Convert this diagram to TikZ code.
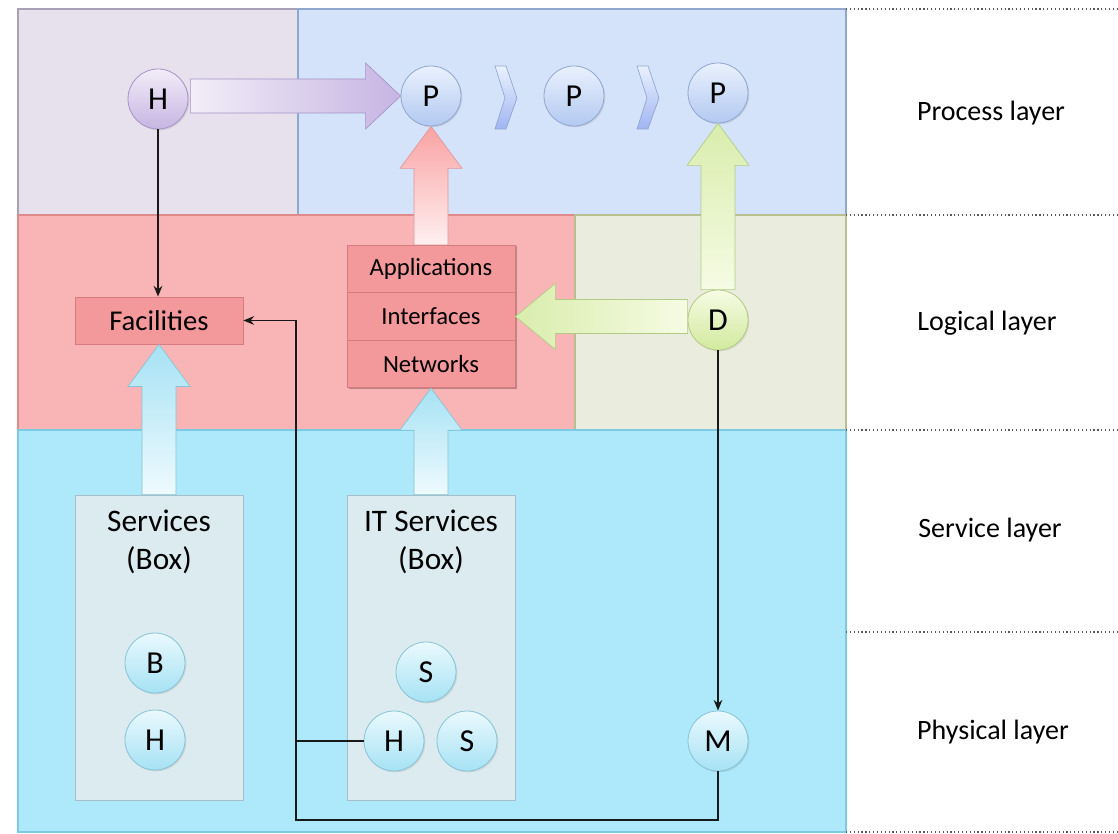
\documentclass[tikz,border=0pt]{standalone}
\usepackage{fontspec}
\setmainfont{Carlito}
\usetikzlibrary{calc,shadows,arrows.meta}
\definecolor{bgLav}{HTML}{E6E1EC}
\definecolor{bgLavB}{HTML}{A8A2B8}
\definecolor{bgPro}{HTML}{D5E3FA}
\definecolor{bgProB}{HTML}{8EA8CC}
\definecolor{bgRed}{HTML}{F9B4B5}
\definecolor{bgRedB}{HTML}{E08A8C}
\definecolor{bgOli}{HTML}{EAEDDD}
\definecolor{bgOliB}{HTML}{B8C090}
\definecolor{bgBlu}{HTML}{ADE9FA}
\definecolor{bgBluB}{HTML}{7CCBE2}
\definecolor{boxRed}{HTML}{F4999B}
\definecolor{boxRedB}{HTML}{D77C7E}
\definecolor{boxSvc}{HTML}{DCEBF0}
\definecolor{boxSvcB}{HTML}{A5BEC8}
\definecolor{cBluT}{HTML}{EAF9FE}
\definecolor{cBluD}{HTML}{A6E2F4}
\definecolor{cBluB}{HTML}{86C3D6}
\definecolor{cPurT}{HTML}{F2EDF8}
\definecolor{cPurD}{HTML}{C6B5E2}
\definecolor{cPurB}{HTML}{A593C6}
\definecolor{cProT}{HTML}{EAF1FD}
\definecolor{cProD}{HTML}{B2C9F1}
\definecolor{cProB}{HTML}{8FA6CE}
\definecolor{cGrnT}{HTML}{F6FBE4}
\definecolor{cGrnD}{HTML}{D2EA9E}
\definecolor{cGrnB}{HTML}{B2CB84}
\tikzset{
  circ/.style={circle, minimum size=45pt, inner sep=0pt, line width=0.6pt,
    font=\fontsize{24}{24}\selectfont,
    drop shadow={shadow xshift=1pt, shadow yshift=-1pt, opacity=0.2}},
  bluec/.style={circ, draw=cBluB, top color=cBluT, bottom color=cBluD},
  purc/.style={circ, draw=cPurB, top color=cPurT, bottom color=cPurD},
  proc/.style={circ, draw=cProB, top color=cProT, bottom color=cProD},
  grnc/.style={circ, draw=cGrnB, top color=cGrnT, bottom color=cGrnD},
  redbox/.style={draw=boxRedB, fill=boxRed, line width=0.6pt, inner sep=0pt,
    minimum width=126pt, minimum height=35.6pt},
  facbox/.style={redbox, minimum height=35.3pt, font=\fontsize{21.5}{21.5}\selectfont,
    drop shadow={shadow xshift=1pt, shadow yshift=-1pt, opacity=0.25}},
  stackbox/.style={redbox, font=\fontsize{18.5}{18.5}\selectfont},
  svcbox/.style={draw=boxSvcB, fill=boxSvc, line width=0.6pt, inner sep=0pt,
    minimum width=126pt, minimum height=228.75pt,
    drop shadow={shadow xshift=1pt, shadow yshift=-1pt, opacity=0.25}},
  svctext/.style={align=center, font=\fontsize{23.5}{29}\selectfont, anchor=north, inner sep=0pt},
  layerlabel/.style={font=\fontsize{21}{21}\selectfont},
  conn/.style={line width=1.4pt, draw=black!90, -{Stealth[length=8pt,width=6.5pt]}},
  plainconn/.style={line width=1.4pt, draw=black!90},
  sep/.style={dotted, line width=0.9pt, draw=black!65},
  blueblk/.style={draw=cBluB, line width=0.5pt, bottom color=cBluT!80!white, top color=cBluD},
  redblk/.style={draw=boxRedB!80, line width=0.5pt, bottom color=red!6, top color=bgRed!90!red},
  grnblkup/.style={draw=cGrnB, line width=0.5pt, bottom color=cGrnT, top color=cGrnD!85!white},
  grnblkleft/.style={draw=cGrnB, line width=0.5pt, right color=cGrnT, left color=cGrnD!85!white},
  purblk/.style={draw=cPurB, line width=0.5pt, left color=cPurT, right color=cPurD},
  chev/.style={draw=cProB, line width=0.5pt, top color=cProT, bottom color=cProD!90!blue},
}
\newcommand{\blkup}[3]{\path[#1] ($(#2)+(-17,0)$) -- ($(#3)+(-17,42)$) -- ($(#3)+(-31,42)$) -- (#3) -- ($(#3)+(31,42)$) -- ($(#3)+(17,42)$) -- ($(#2)+(17,0)$) -- cycle;}
\begin{document}
\begin{tikzpicture}[x=0.75pt,y=-0.75pt]
\useasboundingbox (0,0) rectangle (1118,834);
% layer backgrounds
\draw[fill=bgLav, draw=bgLavB, line width=0.8pt] (18,9) rectangle (298,215);
\draw[fill=bgPro, draw=bgProB, line width=0.8pt] (298,9) rectangle (846,215);
\draw[fill=bgRed, draw=bgRedB, line width=0.8pt] (18,215) rectangle (575,430);
\draw[fill=bgOli, draw=bgOliB, line width=0.8pt] (575,215) rectangle (846,430);
\draw[fill=bgBlu, draw=bgBluB, line width=0.8pt] (18,430) rectangle (846,832);
% separators
\foreach \yy in {9,215,430,632,832} \draw[sep] (846,\yy) -- (1118,\yy);
% layer labels
\node[layerlabel] (lp) at (991,113) {Process layer};
\node[layerlabel] (ll) at (987,323) {Logical layer};
\node[layerlabel] (ls) at (990,530) {Service layer};
\node[layerlabel] (lph) at (993,732) {Physical layer};
% boxes
\node[svcbox] (svc1) at (159,647.5) {};
\node[svcbox] (svc2) at (431,647.5) {};
\node[svctext] (svc1t) at ([yshift=-11pt]svc1.north) {Services\\(Box)};
\node[svctext] (svc2t) at ([yshift=-11pt]svc2.north) {IT Services\\(Box)};
\node[facbox] (Fac) at (159,320.5) {Facilities};
\fill[black, opacity=0.25] (348.5,246.5) rectangle (517,389.5);
\node[stackbox] (App) at (431,269) {Applications};
\node[stackbox] (Int) at (431,316.5) {Interfaces};
\node[stackbox] (Net) at (431,364) {Networks};
% circles
\node[purc] (H1) at (158,99) {H};
\node[proc] (P1) at (431,96) {P};
\node[proc] (P2) at (574,96) {P};
\node[proc] (P3) at (718,93) {P};
\node[grnc] (D) at (718,320) {D};
\node[bluec] (B1) at (155,663) {B};
\node[bluec] (H3) at (155,740) {H};
\node[bluec] (S1) at (426,672) {S};
\node[bluec] (H2) at (394,741) {H};
\node[bluec] (S2) at (467,741) {S};
\node[bluec] (M) at (718,741) {M};
% chevrons
\path[chev] (495,66) -- (506,66) -- (517,98) -- (506,129) -- (495,129) -- (505,98) -- cycle;
\path[chev] (637,66) -- (648,66) -- (659,98) -- (648,129) -- (637,129) -- (647,98) -- cycle;
% block arrows
\blkup{blueblk}{svc1.north}{Fac.south}
\blkup{blueblk}{svc2.north}{Net.south}
\blkup{redblk}{App.north}{P1.south}
\blkup{grnblkup}{D.north}{P3.south}
\coordinate (dtail) at (D.west |- Int.east);
\path[grnblkleft] ($(dtail)+(0,-17)$) -- ($(Int.east)+(40,-17)$) -- ($(Int.east)+(40,-33)$) -- (Int.east) -- ($(Int.east)+(40,33)$) -- ($(Int.east)+(40,17)$) -- ($(dtail)+(0,17)$) -- cycle;
\coordinate (htail) at ([xshift=1.5pt]H1.east |- P1.west);
\path[purblk] ($(htail)+(0,-17)$) -- ($(P1.west)+(-35,-17)$) -- ($(P1.west)+(-35,-33)$) -- (P1.west) -- ($(P1.west)+(-35,33)$) -- ($(P1.west)+(-35,17)$) -- ($(htail)+(0,17)$) -- cycle;
% connectors
\draw[conn] (H1.south) -- (H1.south |- Fac.north);
\draw[conn] (D.south) -- (M.north);
\coordinate (bus) at (296,820);
\draw[conn] (M.south) |- (bus) |- (Fac.east);
\draw[plainconn] (H2.west) -- (H2.west -| bus);
\end{tikzpicture}
\end{document}
